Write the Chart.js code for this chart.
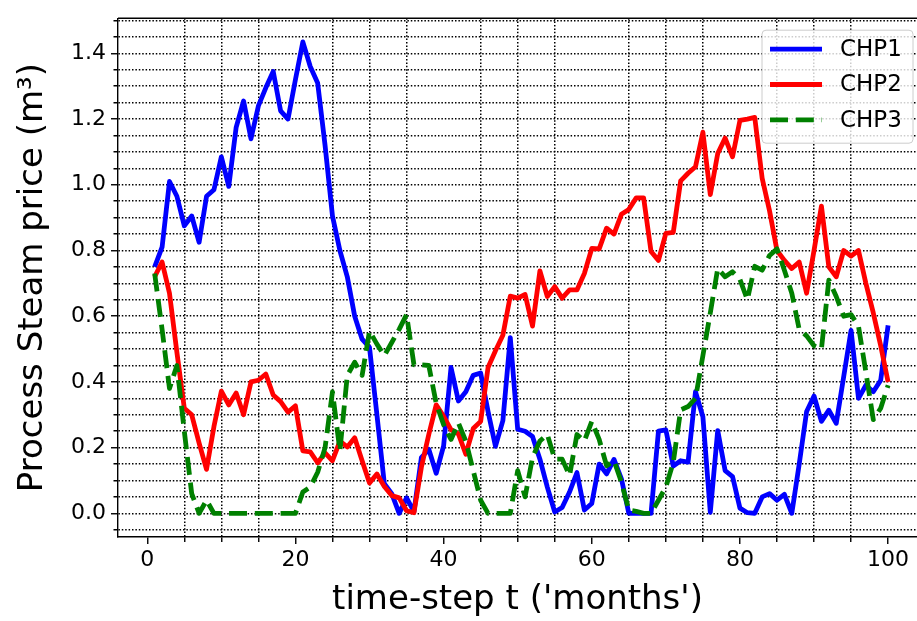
<!DOCTYPE html>
<html>
<head>
<meta charset="utf-8">
<title>Process Steam price</title>
<script src="https://cdn.jsdelivr.net/npm/chart.js@4.4.0/dist/chart.umd.min.js"></script>
<style>
  html, body { margin: 0; padding: 0; background: #fff; }
  #wrap { width: 917px; height: 621px; }
</style>
</head>
<body>
<div id="wrap"><canvas id="steamChart" width="917" height="621"></canvas></div>
<script>
// time steps (months)
const months = Array.from({ length: 100 }, (_, i) => i + 1);

// process steam price per CHP unit
const chp1 = [0.75, 0.81, 1.01, 0.965, 0.875, 0.905, 0.825, 0.965, 0.985, 1.085,
  0.995, 1.175, 1.255, 1.14, 1.24, 1.295, 1.345, 1.225, 1.20, 1.32,
  1.435, 1.36, 1.31, 1.12, 0.905, 0.80, 0.72, 0.60, 0.53, 0.505,
  0.30, 0.09, 0.06, 0.0, 0.047, 0.005, 0.17, 0.195, 0.122, 0.205,
  0.444, 0.342, 0.37, 0.42, 0.427, 0.31, 0.204, 0.282, 0.535, 0.256,
  0.25, 0.234, 0.165, 0.08, 0.004, 0.018, 0.065, 0.124, 0.01, 0.03,
  0.15, 0.12, 0.164, 0.105, 0.0, 0.0, 0.0, 0.0, 0.25, 0.254,
  0.144, 0.16, 0.156, 0.37, 0.294, 0.003, 0.252, 0.13, 0.112, 0.016,
  0.002, 0.0, 0.05, 0.06, 0.04, 0.058, 0.0, 0.15, 0.31, 0.357,
  0.28, 0.314, 0.274, 0.415, 0.557, 0.35, 0.39, 0.37, 0.405, 0.572];

const chp2 = [0.72, 0.765, 0.67, 0.49, 0.32, 0.30, 0.214, 0.134, 0.264, 0.372,
  0.33, 0.366, 0.30, 0.40, 0.405, 0.424, 0.36, 0.34, 0.308, 0.327,
  0.19, 0.187, 0.154, 0.184, 0.16, 0.22, 0.202, 0.23, 0.16, 0.092,
  0.12, 0.082, 0.054, 0.047, 0.008, 0.002, 0.14, 0.24, 0.33, 0.295,
  0.255, 0.242, 0.18, 0.258, 0.28, 0.444, 0.495, 0.542, 0.661, 0.655,
  0.666, 0.57, 0.738, 0.66, 0.69, 0.655, 0.68, 0.68, 0.73, 0.806,
  0.805, 0.868, 0.85, 0.91, 0.925, 0.96, 0.96, 0.797, 0.77, 0.852,
  0.855, 1.012, 1.035, 1.055, 1.16, 0.97, 1.095, 1.142, 1.085, 1.196,
  1.2, 1.205, 1.02, 0.92, 0.80, 0.77, 0.745, 0.765, 0.67, 0.80,
  0.935, 0.75, 0.72, 0.80, 0.783, 0.80, 0.70, 0.61, 0.51, 0.40];

const chp3 = [0.73, 0.56, 0.38, 0.45, 0.25, 0.06, 0.0, 0.04, 0.0, 0.0,
  0.0, 0.0, 0.0, 0.0, 0.0, 0.0, 0.0, 0.0, 0.0, 0.0,
  0.065, 0.08, 0.125, 0.2, 0.37, 0.19, 0.42, 0.46, 0.42, 0.555,
  0.515, 0.48, 0.52, 0.56, 0.605, 0.452, 0.452, 0.45, 0.335, 0.27,
  0.225, 0.275, 0.22, 0.13, 0.04, 0.0, 0.0, 0.0, 0.0, 0.13,
  0.05, 0.17, 0.22, 0.24, 0.165, 0.165, 0.115, 0.24, 0.22, 0.28,
  0.225, 0.145, 0.16, 0.095, 0.01, 0.006, 0.0, 0.0, 0.04, 0.08,
  0.155, 0.315, 0.325, 0.35, 0.48, 0.61, 0.745, 0.72, 0.735, 0.712,
  0.65, 0.752, 0.74, 0.785, 0.805, 0.74, 0.67, 0.56, 0.54, 0.51,
  0.50, 0.71, 0.66, 0.60, 0.605, 0.57, 0.43, 0.285, 0.32, 0.39];

// major tick labels
const xTickLabels = [0, 20, 40, 60, 80, 100];
const yTickLabels = [0.0, 0.2, 0.4, 0.6, 0.8, 1.0, 1.2, 1.4];

const FONT = '"DejaVu Sans", "Liberation Sans", sans-serif';

const isMajorX = v => xTickLabels.some(t => Math.abs(t - v) < 1e-6);
const isMajorY = v => yTickLabels.some(t => Math.abs(t - v) < 1e-6);

const toPoints = ys => months.map((m, i) => ({ x: m, y: ys[i] }));

// top spine + legend box (matplotlib style, upper right)
const frameAndLegend = {
    id: 'frameAndLegend',
    afterDraw(chart) {
        const { ctx, chartArea } = chart;
        ctx.save();
        ctx.strokeStyle = '#000';
        ctx.lineWidth = 1.4;
        ctx.beginPath();
        ctx.moveTo(chartArea.left, chartArea.top);
        ctx.lineTo(chartArea.right, chartArea.top);
        ctx.stroke();

        // legend
        const w = 151, h = 113;
        const x = chartArea.right - 4 - w;
        const y = chartArea.top + 12;
        const r = 4;
        ctx.beginPath();
        ctx.moveTo(x + r, y);
        ctx.lineTo(x + w - r, y);
        ctx.quadraticCurveTo(x + w, y, x + w, y + r);
        ctx.lineTo(x + w, y + h - r);
        ctx.quadraticCurveTo(x + w, y + h, x + w - r, y + h);
        ctx.lineTo(x + r, y + h);
        ctx.quadraticCurveTo(x, y + h, x, y + h - r);
        ctx.lineTo(x, y + r);
        ctx.quadraticCurveTo(x, y, x + r, y);
        ctx.closePath();
        ctx.fillStyle = 'rgba(255,255,255,0.8)';
        ctx.fill();
        ctx.strokeStyle = '#cccccc';
        ctx.lineWidth = 1;
        ctx.stroke();

        chart.data.datasets.forEach((ds, i) => {
            const cy = y + 19 + i * 35.3;
            ctx.beginPath();
            ctx.setLineDash(ds.borderDash || []);
            ctx.strokeStyle = ds.borderColor;
            ctx.lineWidth = ds.borderWidth;
            ctx.lineCap = 'butt';
            ctx.moveTo(x + 8, cy);
            ctx.lineTo(x + 60, cy);
            ctx.stroke();
            ctx.setLineDash([]);
            ctx.fillStyle = '#000';
            ctx.font = '23px ' + FONT;
            ctx.textBaseline = 'middle';
            ctx.textAlign = 'left';
            ctx.fillText(ds.label, x + 78, cy + 1);
        });
        ctx.restore();
    }
};

const ctx = document.getElementById('steamChart').getContext('2d');
const steamChart = new Chart(ctx, {
    type: 'line',
    data: {
        datasets: [
            {
                label: 'CHP1',
                data: toPoints(chp1),
                borderColor: '#0000ff',
                borderWidth: 4.8,
                order: 3
            },
            {
                label: 'CHP2',
                data: toPoints(chp2),
                borderColor: '#ff0000',
                borderWidth: 4.8,
                order: 2
            },
            {
                label: 'CHP3',
                data: toPoints(chp3),
                borderColor: '#008000',
                borderWidth: 4.8,
                borderDash: [18, 7.8],
                order: 1
            }
        ]
    },
    options: {
        responsive: false,
        animation: false,
        devicePixelRatio: 1,
        layout: { padding: { top: 11, right: 0, left: 0, bottom: 0 } },
        elements: {
            point: { radius: 0, hoverRadius: 0 },
            line: { tension: 0, fill: false, borderJoinStyle: 'round', borderCapStyle: 'butt' }
        },
        plugins: {
            legend: { display: false },
            tooltip: { enabled: false }
        },
        scales: {
            x: {
                type: 'linear',
                min: -3.95,
                max: 103.9,
                afterFit: scale => { scale.height = 84; },
                border: { display: true, color: '#000', width: 1.4, dash: [1.5, 1.9] },
                grid: {
                    color: c => (c.tick && isMajorX(c.tick.value)) ? 'rgba(0,0,0,0)' : '#000',
                    lineWidth: 1.5,
                    tickLength: 7,
                    tickColor: '#000',
                    tickWidth: 1.4,
                    tickBorderDash: c => (c.tick && isMajorX(c.tick.value)) ? [] : [4.5, 50]
                },
                ticks: {
                    stepSize: 5,
                    includeBounds: false,
                    autoSkip: false,
                    maxRotation: 0,
                    padding: 3,
                    color: '#000',
                    font: { family: FONT, size: 22 },
                    callback: v => isMajorX(v) ? String(Math.round(v)) : ''
                },
                title: {
                    display: true,
                    text: "time-step t ('months')",
                    color: '#000',
                    font: { family: FONT, size: 34 },
                    padding: { top: 0, bottom: 0 }
                }
            },
            y: {
                type: 'linear',
                min: -0.072,
                max: 1.507,
                afterFit: scale => { scale.width = 118; },
                border: { display: true, color: '#000', width: 1.4, dash: [1.5, 1.9] },
                grid: {
                    color: '#000',
                    lineWidth: 1.5,
                    tickLength: 7,
                    tickColor: '#000',
                    tickWidth: 1.4,
                    tickBorderDash: c => (c.tick && isMajorY(c.tick.value)) ? [] : [0, 2.5, 4.5, 50]
                },
                ticks: {
                    stepSize: 0.05,
                    includeBounds: false,
                    autoSkip: false,
                    padding: 5,
                    color: '#000',
                    font: { family: FONT, size: 22 },
                    callback: v => isMajorY(v) ? v.toFixed(1) : ''
                },
                title: {
                    display: true,
                    text: 'Process Steam price (m³)',
                    color: '#000',
                    font: { family: FONT, size: 34 },
                    padding: { top: 13, bottom: 0 }
                }
            }
        }
    },
    plugins: [frameAndLegend]
});
</script>
</body>
</html>
